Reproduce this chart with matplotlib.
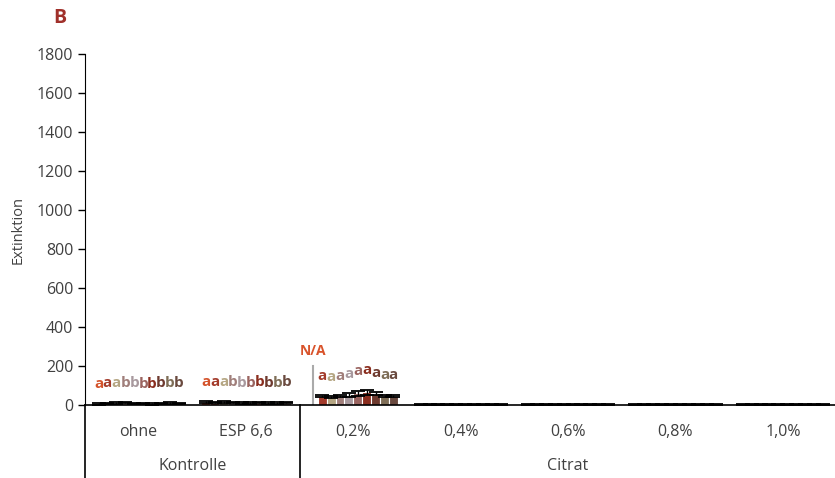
import numpy as np
import matplotlib.pyplot as plt
import matplotlib.transforms as mtransforms

plt.rcParams['font.family'] = ['Open Sans', 'DejaVu Sans']

categories = ['ohne', 'ESP 6,6', '0,2%', '0,4%', '0,6%', '0,8%', '1,0%']
groups = [('Kontrolle', 0, 1), ('Citrat', 2, 6)]

# mean extinction per category (rows) and series (columns), nan = N/A
means = [
    [5, 8, 10, 12, 8, 6, 5, 8, 10, 8],
    [15, 12, 14, 12, 10, 10, 12, 10, 10, 12],
    [np.nan, 45, 40, 45, 50, 60, 65, 58, 48, 48],
    [2, 2, 2, 2, 2, 2, 2, 2, 2, 2],
    [2, 2, 2, 2, 2, 2, 2, 2, 2, 2],
    [2, 2, 2, 2, 2, 2, 2, 2, 2, 2],
    [2, 2, 2, 2, 2, 2, 2, 2, 2, 2],
]
errors = [
    [3, 3, 3, 3, 3, 3, 3, 3, 3, 3],
    [4, 4, 4, 4, 4, 4, 4, 4, 4, 4],
    [0, 5, 5, 5, 10, 14, 12, 8, 5, 5],
    [2, 2, 2, 2, 2, 2, 2, 2, 2, 2],
    [2, 2, 2, 2, 2, 2, 2, 2, 2, 2],
    [2, 2, 2, 2, 2, 2, 2, 2, 2, 2],
    [2, 2, 2, 2, 2, 2, 2, 2, 2, 2],
]
letters = [
    list('aaabbbbbbb'),
    list('aaabbbbbbb'),
    [''] + list('aaaaaaaaa'),
    [''] * 10, [''] * 10, [''] * 10, [''] * 10,
]
colors = ['#D4532B', '#A33B2B', '#B5A683', '#A07E7A', '#A8999E',
          '#9A6460', '#8B2E1F', '#6E3A2F', '#7F6E57', '#6A4A3F']

fig = plt.figure(figsize=(8.35, 4.78), dpi=100)
ax = fig.add_axes([0.1018, 0.1527, 0.9, 0.7343])

means = np.array(means, dtype=float)
errors = np.array(errors, dtype=float)
x = np.arange(len(categories))
w = 0.083
n = means.shape[1]

for j in range(n):
    xs = x + (j - (n - 1) / 2) * w
    ax.bar(xs, np.nan_to_num(means[:, j]), width=w, color=colors[j],
           edgecolor='white', linewidth=0.8, zorder=2)
    ax.errorbar(xs, means[:, j], yerr=errors[:, j], fmt='none', ecolor='black',
                elinewidth=1, capsize=5, capthick=1.3, zorder=3)
    for i in range(len(categories)):
        if letters[i][j]:
            ax.text(xs[i], means[i, j] + errors[i, j] + 100, letters[i][j],
                    ha='center', va='center', fontsize=11, fontweight='bold',
                    color=colors[j])

# N/A marker for first series at 0,2%
xna = x[2] + (0 - (n - 1) / 2) * w
ax.plot([xna, xna], [0, 200], color='#AAAAAA', lw=1.5, zorder=2)
ax.text(xna, 240, 'N/A', ha='center', va='bottom', fontsize=10,
        fontweight='bold', color='#D9532B')

ax.set_xlim(-0.5, len(categories) - 0.5)
ax.set_ylim(0, 1800)
ax.set_yticks(np.arange(0, 1801, 200))
ax.tick_params(axis='y', labelsize=11.5, length=5, width=1, colors='#404040')
ax.tick_params(axis='y', color='black')
ax.tick_params(axis='x', length=0, labelbottom=False)
for s in ['top', 'right']:
    ax.spines[s].set_visible(False)
ax.spines['left'].set_color('black')
ax.spines['bottom'].set_color('black')
ax.spines['bottom'].set_linewidth(1.2)
ax.set_ylabel('Extinktion', fontsize=10.5, color='#404040', labelpad=8)

# multi-level category axis
trans = mtransforms.blended_transform_factory(ax.transData, ax.transAxes)
for i, c in enumerate(categories):
    ax.text(i, -0.077, c, transform=trans, ha='center', va='center',
            fontsize=11.5, color='#404040')
for name, a, b in groups:
    ax.text((a + b) / 2, -0.174, name, transform=trans, ha='center',
            va='center', fontsize=11.5, color='#404040')
for xb in [-0.5, 1.5]:
    ax.plot([xb, xb], [0, -0.21], transform=trans, color='black', lw=1.2,
            clip_on=False)

fig.text(0.072, 0.962, 'B', fontsize=14, fontweight='bold', color='#A0302A',
         ha='center', va='center')

fig.savefig('out.png', dpi=100)
